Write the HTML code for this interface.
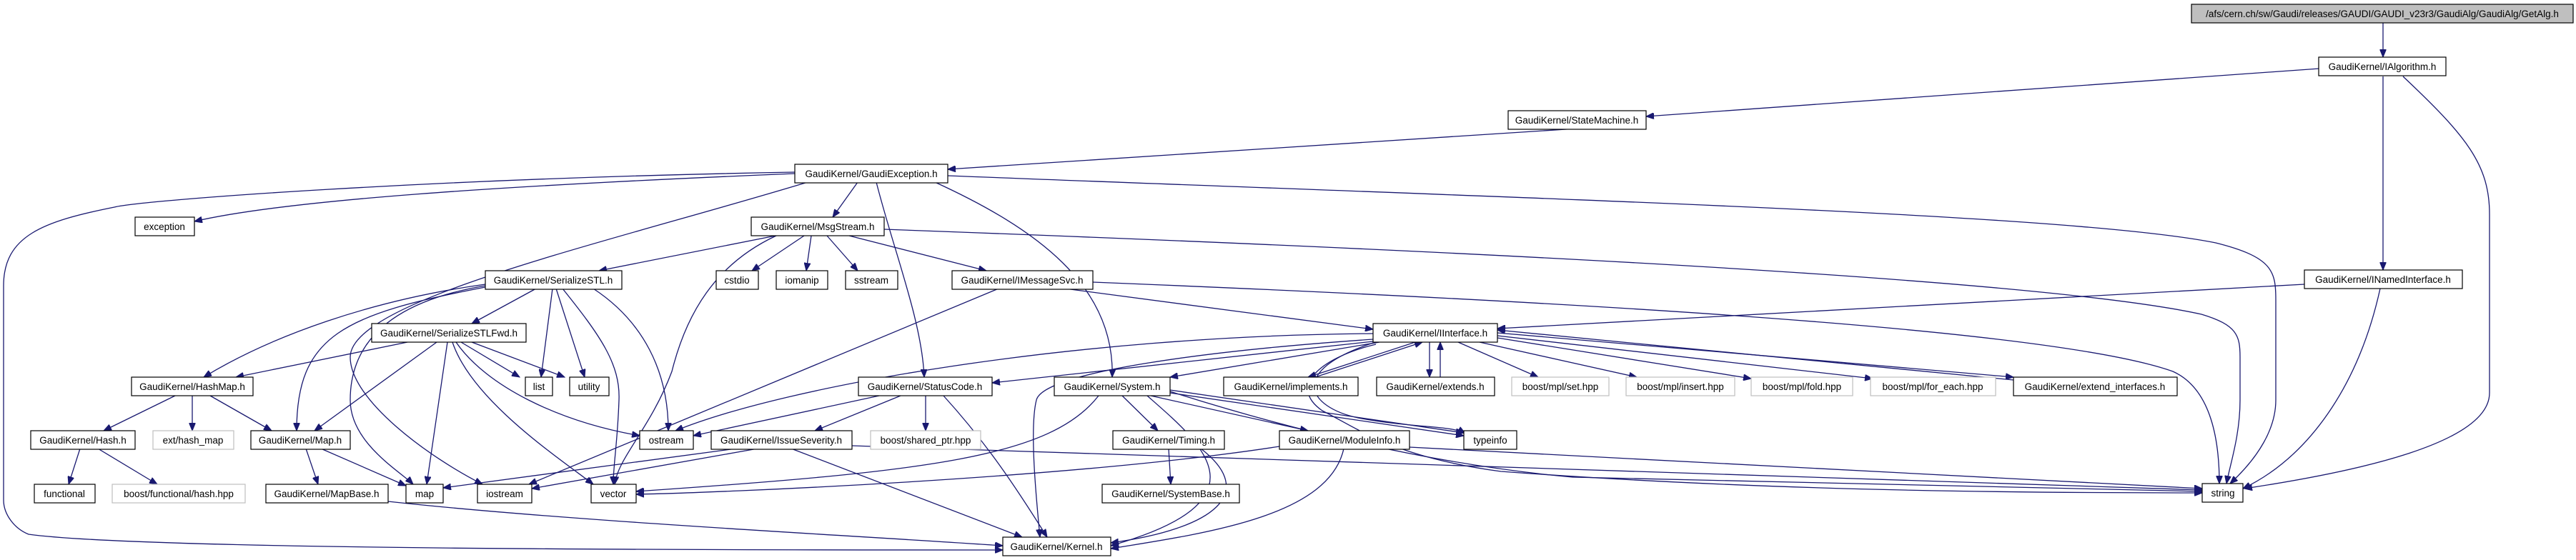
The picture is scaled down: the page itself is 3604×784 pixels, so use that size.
<!DOCTYPE html>
<html><head><meta charset="utf-8"><style>
html,body{margin:0;padding:0;background:#fff;}
svg{display:block;}
text{font-family:"Liberation Sans",sans-serif;font-size:13.5px;fill:#000;text-anchor:middle;}
.e{fill:none;stroke:#191970;stroke-width:1.3;marker-end:url(#a);}
.n{fill:#fff;stroke:#000;stroke-width:1.2;}
.g{fill:#fff;stroke:#bfbfbf;stroke-width:1.2;}
</style></head><body>
<svg width="3604" height="784" viewBox="0 0 3604 784" xmlns="http://www.w3.org/2000/svg">
<defs><marker id="a" markerUnits="userSpaceOnUse" markerWidth="12" markerHeight="9" refX="11" refY="4.5" orient="auto"><path d="M0,0 L11,4.5 L0,9 z" fill="#191970" stroke="#191970"/></marker></defs>
<g>
<path class="e" d="M3334,32 L3334,80"/>
<path class="e" d="M3245,96 L2303,163"/>
<path class="e" d="M3334,107 L3334,378"/>
<path class="e" d="M3362,107 C3450,190 3483,230 3483,300 L3483,550 C3483,620 3300,660 3140,684"/>
<path class="e" d="M2206,180 L1326,237"/>
<path class="e" d="M1112,243 C700,260 400,280 272,310"/>
<path class="e" d="M1112,241 C600,250 200,280 160,290 C60,310 5,330 5,400 L5,700 C5,720 20,740 40,748 C200,770 1000,770 1403,770"/>
<path class="e" d="M1200,255 L1165,304"/>
<path class="e" d="M1130,255 C850,340 490,420 490,500 C490,560 600,640 675,678"/>
<path class="e" d="M679,400 C560,420 490,470 490,560 C490,620 560,660 578,678"/>
<path class="e" d="M1226,255 C1250,350 1290,450 1293,528"/>
<path class="e" d="M1308,255 C1450,320 1560,400 1556,528"/>
<path class="e" d="M1326,246 C2200,280 2900,300 3100,340 C3180,360 3184,380 3184,420 L3184,560 C3184,600 3160,640 3120,677"/>
<path class="e" d="M1237,321 C2300,360 2900,400 3080,440 C3130,455 3134,470 3134,500 L3134,560 C3134,610 3120,650 3115,677"/>
<path class="e" d="M1529,395 C2400,430 2900,470 3040,520 C3095,545 3105,620 3105,677"/>
<path class="e" d="M1085,330 L838,379"/>
<path class="e" d="M1125,330 L1052,379"/>
<path class="e" d="M1135,330 L1128,379"/>
<path class="e" d="M1157,330 L1200,379"/>
<path class="e" d="M1188,330 L1380,379"/>
<path class="e" d="M1086,330 C1000,370 960,440 940,520 C910,600 865,640 860,678"/>
<path class="e" d="M679,398 C520,420 380,470 285,528"/>
<path class="e" d="M679,402 C480,440 415,470 415,603"/>
<path class="e" d="M750,404 L660,453"/>
<path class="e" d="M773,404 L757,528"/>
<path class="e" d="M778,404 L818,528"/>
<path class="e" d="M787,404 C840,470 868,510 866,560 C864,620 858,650 858,678"/>
<path class="e" d="M830,404 C900,450 935,520 935,603"/>
<path class="e" d="M570,479 L330,528"/>
<path class="e" d="M611,479 L440,603"/>
<path class="e" d="M626,479 L597,678"/>
<path class="e" d="M645,479 L727,528"/>
<path class="e" d="M660,479 L790,528"/>
<path class="e" d="M633,479 C660,560 780,640 830,678"/>
<path class="e" d="M638,479 C680,540 780,590 895,610"/>
<path class="e" d="M245,554 L145,603"/>
<path class="e" d="M269,554 L269,603"/>
<path class="e" d="M294,554 L380,603"/>
<path class="e" d="M112,628 L96,678"/>
<path class="e" d="M137,628 L220,678"/>
<path class="e" d="M428,628 L445,678"/>
<path class="e" d="M449,628 L568,680"/>
<path class="e" d="M543,702 C800,730 1200,750 1403,764"/>
<path class="e" d="M1490,404 L1921,461"/>
<path class="e" d="M1397,404 L740,678"/>
<path class="e" d="M3224,398 L2095,460"/>
<path class="e" d="M3330,404 C3300,540 3230,640 3138,684"/>
<path class="e" d="M1921,478 L1388,536"/>
<path class="e" d="M1930,479 L1637,528"/>
<path class="e" d="M1921,467 C1500,470 1100,540 945,603"/>
<path class="e" d="M1921,475 C1700,490 1460,520 1450,560 C1440,600 1450,700 1455,752"/>
<path class="e" d="M1980,479 L1830,528"/>
<path class="e" d="M1840,528 L1990,479"/>
<path class="e" d="M2000,479 L2000,528"/>
<path class="e" d="M2015,528 L2015,479"/>
<path class="e" d="M2040,479 L2152,528"/>
<path class="e" d="M2070,479 L2290,528"/>
<path class="e" d="M2095,473 L2450,530"/>
<path class="e" d="M2095,470 L2620,530"/>
<path class="e" d="M2095,466 L2817,528"/>
<path class="e" d="M2817,532 L2095,462"/>
<path class="e" d="M1921,480 C1800,520 1830,570 1900,585 C1980,600 2030,595 2050,607"/>
<path class="e" d="M1925,482 C1850,500 1800,540 1850,575 C1900,600 1950,640 2100,660 C2500,690 2900,690 3081,690"/>
<path class="e" d="M1230,554 L970,610"/>
<path class="e" d="M1260,554 L1140,603"/>
<path class="e" d="M1295,554 L1295,603"/>
<path class="e" d="M1320,554 C1380,620 1420,680 1465,752"/>
<path class="e" d="M1537,554 C1470,640 1300,660 890,688"/>
<path class="e" d="M1790,625 C1500,670 1000,690 890,692"/>
<path class="e" d="M1570,554 L1620,603"/>
<path class="e" d="M1610,554 L1830,603"/>
<path class="e" d="M1637,550 L2048,610"/>
<path class="e" d="M1637,546 L2048,606"/>
<path class="e" d="M1605,554 C1680,620 1780,700 1554,764"/>
<path class="e" d="M1637,548 C1800,600 2000,650 2200,668 L3081,688"/>
<path class="e" d="M1030,628 L620,683"/>
<path class="e" d="M1060,628 L744,684"/>
<path class="e" d="M1107,628 L1430,752"/>
<path class="e" d="M1192,624 L3081,686"/>
<path class="e" d="M1635,628 L1638,678"/>
<path class="e" d="M1680,628 C1760,690 1700,740 1554,760"/>
<path class="e" d="M1880,628 C1860,720 1700,745 1554,768"/>
<path class="e" d="M1972,626 L3081,684"/>
</g>
<g>
<rect x="3066" y="6" width="534" height="26" fill="#bfbfbf" stroke="#000" stroke-width="1.2"/><text x="3333" y="24">/afs/cern.ch/sw/Gaudi/releases/GAUDI/GAUDI_v23r3/GaudiAlg/GaudiAlg/GetAlg.h</text>
<rect class="n" x="3244" y="80" width="178" height="26"/><text x="3333" y="98">GaudiKernel/IAlgorithm.h</text>
<rect class="n" x="2110" y="155" width="193" height="26"/><text x="2206" y="173">GaudiKernel/StateMachine.h</text>
<rect class="n" x="1112" y="230" width="214" height="26"/><text x="1219" y="248">GaudiKernel/GaudiException.h</text>
<rect class="n" x="189" y="304" width="83" height="26"/><text x="230" y="322">exception</text>
<rect class="n" x="1051" y="304" width="186" height="26"/><text x="1144" y="322">GaudiKernel/MsgStream.h</text>
<rect class="n" x="3224" y="378" width="221" height="26"/><text x="3334" y="396">GaudiKernel/INamedInterface.h</text>
<rect class="n" x="679" y="379" width="191" height="26"/><text x="774" y="397">GaudiKernel/SerializeSTL.h</text>
<rect class="n" x="1002" y="379" width="59" height="26"/><text x="1031" y="397">cstdio</text>
<rect class="n" x="1086" y="379" width="72" height="26"/><text x="1122" y="397">iomanip</text>
<rect class="n" x="1183" y="379" width="73" height="26"/><text x="1219" y="397">sstream</text>
<rect class="n" x="1332" y="379" width="197" height="26"/><text x="1430" y="397">GaudiKernel/IMessageSvc.h</text>
<rect class="n" x="520" y="453" width="216" height="26"/><text x="628" y="471">GaudiKernel/SerializeSTLFwd.h</text>
<rect class="n" x="1921" y="453" width="174" height="26"/><text x="2008" y="471">GaudiKernel/IInterface.h</text>
<rect class="n" x="184" y="528" width="170" height="26"/><text x="269" y="546">GaudiKernel/HashMap.h</text>
<rect class="n" x="735" y="528" width="38" height="26"/><text x="754" y="546">list</text>
<rect class="n" x="797" y="528" width="55" height="26"/><text x="824" y="546">utility</text>
<rect class="n" x="1201" y="528" width="187" height="26"/><text x="1294" y="546">GaudiKernel/StatusCode.h</text>
<rect class="n" x="1475" y="528" width="162" height="26"/><text x="1556" y="546">GaudiKernel/System.h</text>
<rect class="n" x="1712" y="528" width="188" height="26"/><text x="1806" y="546">GaudiKernel/implements.h</text>
<rect class="n" x="1926" y="528" width="165" height="26"/><text x="2008" y="546">GaudiKernel/extends.h</text>
<rect class="g" x="2115" y="528" width="136" height="26"/><text x="2183" y="546">boost/mpl/set.hpp</text>
<rect class="g" x="2275" y="528" width="152" height="26"/><text x="2351" y="546">boost/mpl/insert.hpp</text>
<rect class="g" x="2450" y="528" width="142" height="26"/><text x="2521" y="546">boost/mpl/fold.hpp</text>
<rect class="g" x="2617" y="528" width="175" height="26"/><text x="2704" y="546">boost/mpl/for_each.hpp</text>
<rect class="n" x="2817" y="528" width="229" height="26"/><text x="2931" y="546">GaudiKernel/extend_interfaces.h</text>
<rect class="n" x="43" y="603" width="146" height="26"/><text x="116" y="621">GaudiKernel/Hash.h</text>
<rect class="g" x="214" y="603" width="113" height="26"/><text x="270" y="621">ext/hash_map</text>
<rect class="n" x="351" y="603" width="139" height="26"/><text x="420" y="621">GaudiKernel/Map.h</text>
<rect class="n" x="895" y="603" width="75" height="26"/><text x="932" y="621">ostream</text>
<rect class="n" x="995" y="603" width="197" height="26"/><text x="1093" y="621">GaudiKernel/IssueSeverity.h</text>
<rect class="g" x="1218" y="603" width="154" height="26"/><text x="1295" y="621">boost/shared_ptr.hpp</text>
<rect class="n" x="1557" y="603" width="156" height="26"/><text x="1635" y="621">GaudiKernel/Timing.h</text>
<rect class="n" x="1790" y="603" width="182" height="26"/><text x="1881" y="621">GaudiKernel/ModuleInfo.h</text>
<rect class="n" x="2048" y="603" width="74" height="26"/><text x="2085" y="621">typeinfo</text>
<rect class="n" x="48" y="678" width="85" height="26"/><text x="90" y="696">functional</text>
<rect class="g" x="157" y="678" width="186" height="26"/><text x="250" y="696">boost/functional/hash.hpp</text>
<rect class="n" x="372" y="678" width="171" height="26"/><text x="457" y="696">GaudiKernel/MapBase.h</text>
<rect class="n" x="568" y="678" width="52" height="26"/><text x="594" y="696">map</text>
<rect class="n" x="668" y="678" width="76" height="26"/><text x="706" y="696">iostream</text>
<rect class="n" x="827" y="678" width="63" height="26"/><text x="858" y="696">vector</text>
<rect class="n" x="1542" y="678" width="192" height="26"/><text x="1638" y="696">GaudiKernel/SystemBase.h</text>
<rect class="n" x="3081" y="677" width="57" height="26"/><text x="3110" y="695">string</text>
<rect class="n" x="1403" y="752" width="151" height="26"/><text x="1478" y="770">GaudiKernel/Kernel.h</text>
</g>
</svg>
</body></html>
